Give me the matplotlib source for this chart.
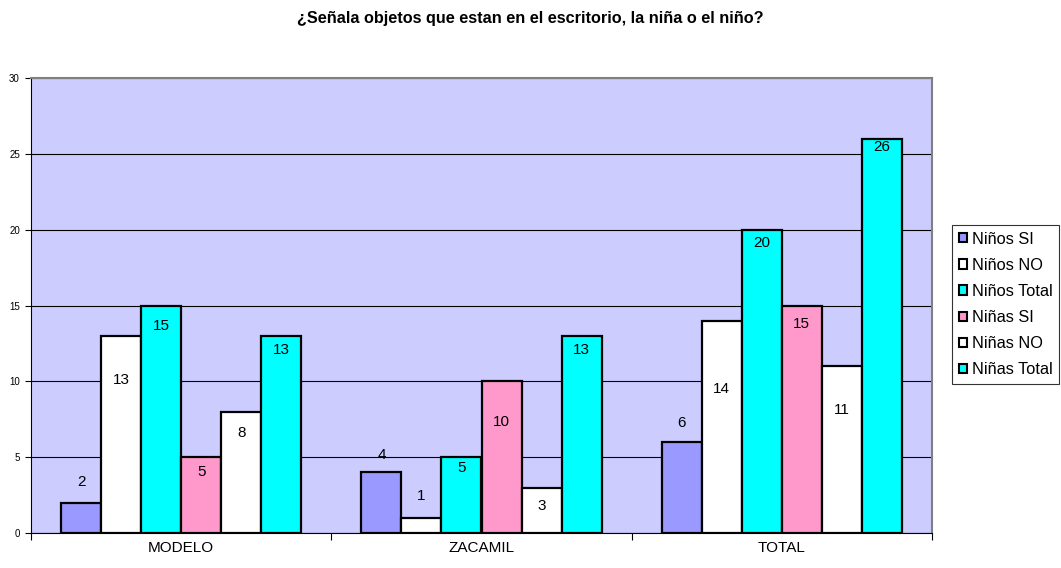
import matplotlib
matplotlib.use("Agg")
import matplotlib.pyplot as plt
import numpy as np
from matplotlib.patches import Patch
from matplotlib.ticker import FixedLocator, NullFormatter

plt.rcParams['font.family'] = ['Liberation Sans', 'DejaVu Sans']

title = "¿Señala objetos que estan en el escritorio, la niña o el niño?"
categories = ["MODELO", "ZACAMIL", "TOTAL"]
series_names = ["Niños SI", "Niños NO", "Niños Total", "Niñas SI", "Niñas NO", "Niñas Total"]
ninos_si = [2, 4, 6]
ninos_no = [13, 1, 14]
ninos_total = [15, 5, 20]
ninas_si = [5, 10, 15]
ninas_no = [8, 3, 11]
ninas_total = [13, 13, 26]
yticks = [0, 5, 10, 15, 20, 25, 30]

series = [ninos_si, ninos_no, ninos_total, ninas_si, ninas_no, ninas_total]
colors = ["#9999FF", "#FFFFFF", "#00FFFF", "#FF99CC", "#FFFFFF", "#00FFFF"]
# label offsets (pixels below bar top; negative = above)
label_offsets = [
    [-21, -17, -19],
    [44, -22, 68],
    [20, 11, 13],
    [15, 41, 18],
    [21, 18, 44],
    [14, 14, 8],
]

fig = plt.figure(figsize=(10.61, 5.68), dpi=100)
ax = fig.add_axes([31/1061, 1-533/568, (932-31)/1061, (533-78)/568])
ax.set_facecolor("#CCCCFF")

x = np.arange(len(categories))
bw = 40/300
n = len(series)
for i, (vals, c) in enumerate(zip(series, colors)):
    pos = x + (i - (n-1)/2) * bw
    ax.bar(pos, vals, width=bw, color=c, edgecolor="black", linewidth=1.6, zorder=3)
    for j, (p, v) in enumerate(zip(pos, vals)):
        off = label_offsets[i][j] * 0.72
        ax.annotate(str(v), (p, v), xytext=(0, -off), textcoords="offset points",
                    ha="center", va="center", fontsize=11, zorder=4)

ax.set_xlim(-0.5, len(categories) - 0.5)
ax.set_ylim(0, 30)
ax.set_yticks(yticks)
ax.set_yticklabels([str(t) for t in yticks], fontsize=7)
ax.yaxis.grid(True, color="black", linewidth=0.8, zorder=1)
ax.set_axisbelow(True)

ax.xaxis.set_major_locator(FixedLocator(np.arange(-0.5, len(categories), 1.0)))
ax.xaxis.set_major_formatter(NullFormatter())
ax.xaxis.set_minor_locator(FixedLocator(x))
ax.set_xticklabels(categories, minor=True, fontsize=11)
ax.tick_params(axis="x", which="minor", length=0, pad=6)
ax.tick_params(axis="x", which="major", length=5, width=0.8, direction="out")
ax.tick_params(axis="y", length=4, width=0.8, direction="out", pad=4)

for s in ["top", "right"]:
    ax.spines[s].set_color("#808080")
    ax.spines[s].set_linewidth(1.5)
ax.spines["left"].set_color("black")
ax.spines["bottom"].set_color("black")
ax.spines["left"].set_linewidth(0.8)
ax.spines["bottom"].set_linewidth(0.8)

fig.text(0.5, 1-18/568, title, ha="center", va="center", fontsize=11.7, fontweight="bold")

handles = [Patch(facecolor=c, edgecolor="black", linewidth=1.5) for c in colors]
leg = fig.legend(handles, series_names, loc="upper left",
                 bbox_to_anchor=(952/1061, 1-225/568), frameon=True, fancybox=False,
                 fontsize=11.8, handlelength=0.5, handleheight=0.5, handletextpad=0.3,
                 labelspacing=0.68, borderpad=0.4, borderaxespad=0)
leg.get_frame().set_edgecolor("black")
leg.get_frame().set_linewidth(0.8)

fig.savefig("out.png", dpi=100)
